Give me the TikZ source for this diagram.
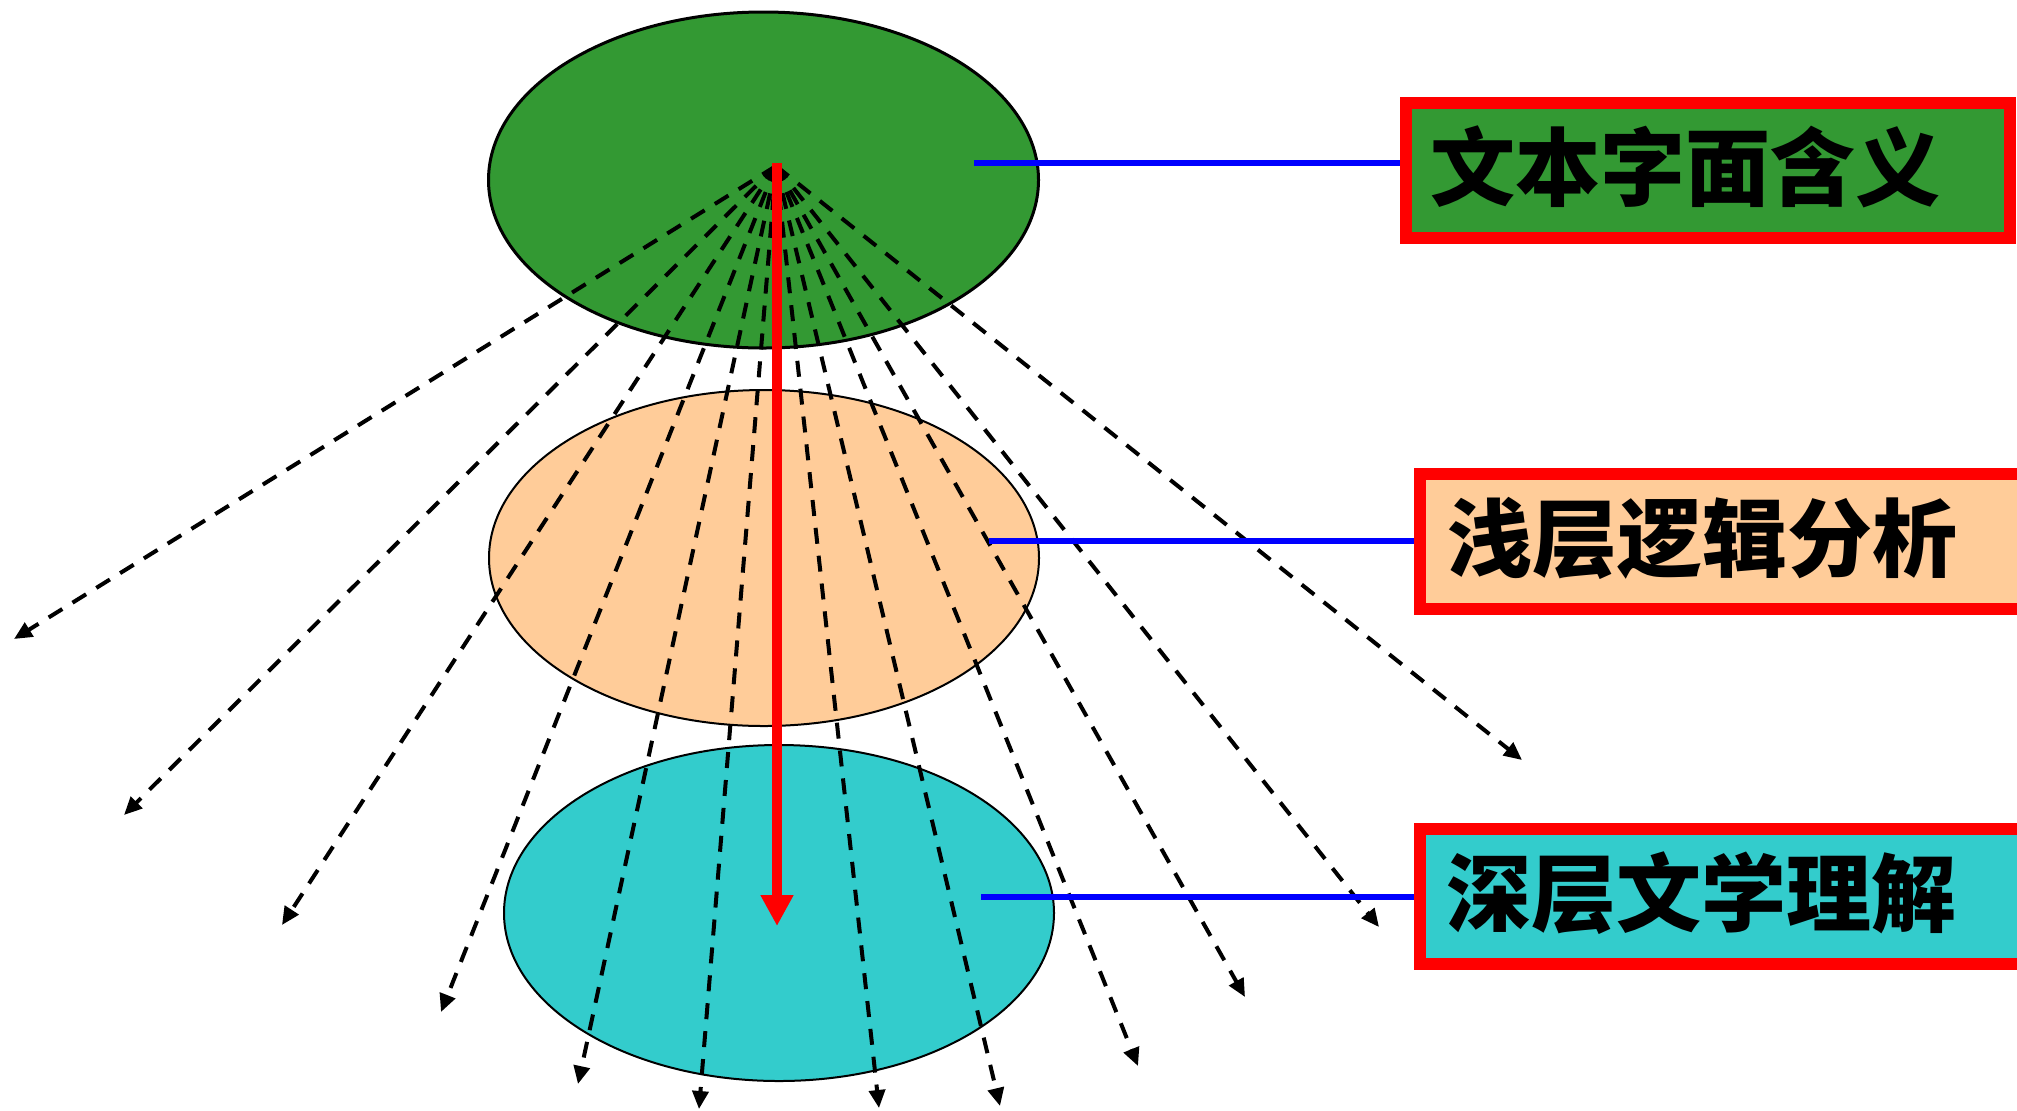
\documentclass[tikz,border=0pt]{standalone}
\usepackage{fontspec}
\newfontfamily\cjk{Noto Sans CJK SC}
\usetikzlibrary{shapes.geometric,arrows.meta}
\definecolor{lgreen}{RGB}{51,153,51}
\definecolor{peach}{RGB}{255,204,153}
\definecolor{tealc}{RGB}{51,204,204}
\tikzset{
  layer/.style={ellipse,draw=black,minimum width=275pt,minimum height=168pt,inner sep=0pt},
  dasharrow/.style={draw=black,line width=2pt,dash pattern=on 8pt off 6pt,-{Triangle[length=9pt,width=8pt]}},
  redarrow/.style={draw=red,line width=5pt,-{Triangle[length=15.5pt,width=15.5pt]}},
  blueline/.style={draw=blue,line width=2.8pt},
  labelbox/.style={rectangle,draw=red,line width=6pt,minimum height=67.5pt,inner sep=0pt},
  labeltext/.style={anchor=base west,inner sep=0pt,font=\cjk\bfseries\fontsize{42.5pt}{50pt}\selectfont,text=black}
}
\begin{document}
\begin{tikzpicture}[x=0.5pt,y=-0.5pt]
\useasboundingbox (0,0) rectangle (2017,1110);
\fill[white] (0,0) rectangle (2017,1110);
% layers
\node[layer,fill=lgreen,line width=1.5pt] (top) at (763.5,180) {};
\node[layer,fill=peach,line width=1pt] (mid) at (764,558) {};
\node[layer,fill=tealc,line width=1pt] (bot) at (779,913) {};
% apex and arrow ends
\coordinate (apex) at (776,166);
\coordinate (e1) at (14,639);
\coordinate (e2) at (124,815);
\coordinate (e3) at (282,925);
\coordinate (e4) at (441,1012);
\coordinate (e5) at (578,1084);
\coordinate (e6) at (699,1109);
\coordinate (e7) at (879,1108);
\coordinate (e8) at (1000,1106);
\coordinate (e9) at (1138,1066);
\coordinate (e10) at (1245,997);
\coordinate (e11) at (1379,927);
\coordinate (e12) at (1522,760);
\foreach \i in {1,...,12}{\draw[dasharrow] (apex) -- (e\i);}
% red arrow
\coordinate (rtip) at (777,926);
\draw[redarrow] (777,163) -- (rtip);
% label boxes
\clip (0,0) rectangle (2017,1110);
\node[labelbox,fill=lgreen,minimum width=302pt] (box1) at (1708,170.5) {};
\node[labelbox,fill=peach,minimum width=310pt] (box2) at (1730,541.5) {};
\node[labelbox,fill=tealc,minimum width=310pt] (box3) at (1730,896.5) {};
\node[labeltext] (t1) at (1430,199) {文本字面含义};
\node[labeltext] (t2) at (1447,570) {浅层逻辑分析};
\node[labeltext] (t3) at (1446,925) {深层文学理解};
% connectors
\coordinate (b1) at (974,163);
\coordinate (b2) at (989,541);
\coordinate (b3) at (981,897);
\draw[blueline] (b1) -- (b1 -| box1.west);
\draw[blueline] (b2) -- (b2 -| box2.west);
\draw[blueline] (b3) -- (b3 -| box3.west);
\end{tikzpicture}
\end{document}
